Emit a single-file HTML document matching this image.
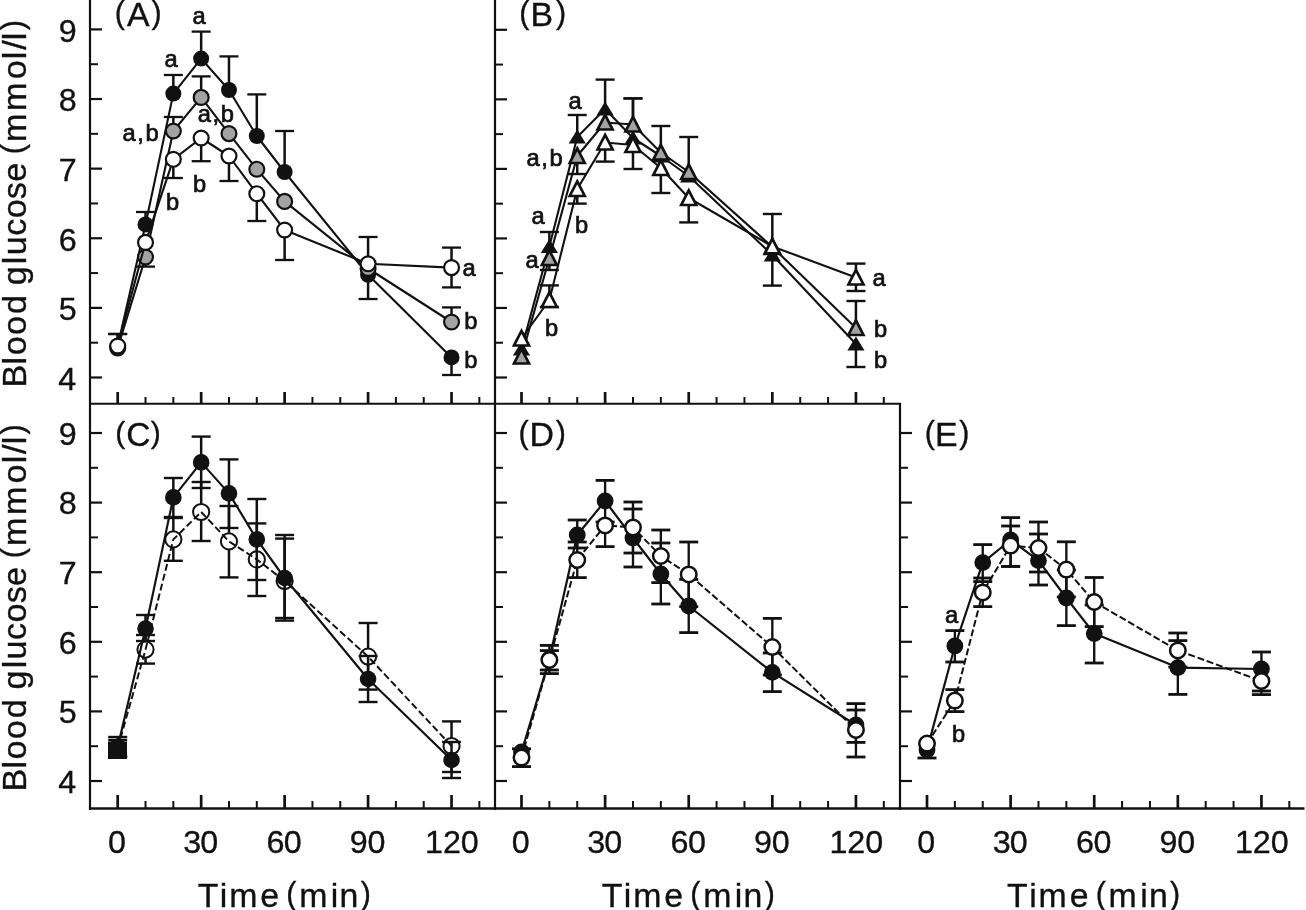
<!DOCTYPE html>
<html><head><meta charset="utf-8"><title>Blood glucose</title>
<style>html,body{margin:0;padding:0;background:#fff}svg{display:block}text{font-family:"Liberation Sans",sans-serif;fill:#111}</style>
</head><body>
<svg width="1306" height="910" viewBox="0 0 1306 910">
<rect width="1306" height="910" fill="#fff"/>
<g stroke="#111" fill="none" stroke-linecap="butt">
<line x1="90.00" y1="0.00" x2="90.00" y2="810.00" stroke-width="2.2" />
<line x1="495.00" y1="0.00" x2="495.00" y2="810.00" stroke-width="2.2" />
<line x1="900.00" y1="403.80" x2="900.00" y2="810.00" stroke-width="2.2" />
<line x1="89.00" y1="403.80" x2="901.10" y2="403.80" stroke-width="2" />
<line x1="89.00" y1="808.50" x2="1304.50" y2="808.50" stroke-width="2.7" />
<line x1="90.00" y1="377.50" x2="102.00" y2="377.50" stroke-width="2.2" />
<line x1="90.00" y1="342.69" x2="98.00" y2="342.69" stroke-width="2.0" />
<line x1="90.00" y1="307.88" x2="102.00" y2="307.88" stroke-width="2.2" />
<line x1="90.00" y1="273.07" x2="98.00" y2="273.07" stroke-width="2.0" />
<line x1="90.00" y1="238.26" x2="102.00" y2="238.26" stroke-width="2.2" />
<line x1="90.00" y1="203.45" x2="98.00" y2="203.45" stroke-width="2.0" />
<line x1="90.00" y1="168.64" x2="102.00" y2="168.64" stroke-width="2.2" />
<line x1="90.00" y1="133.83" x2="98.00" y2="133.83" stroke-width="2.0" />
<line x1="90.00" y1="99.02" x2="102.00" y2="99.02" stroke-width="2.2" />
<line x1="90.00" y1="64.21" x2="98.00" y2="64.21" stroke-width="2.0" />
<line x1="90.00" y1="29.40" x2="102.00" y2="29.40" stroke-width="2.2" />
<line x1="495.00" y1="377.50" x2="507.00" y2="377.50" stroke-width="2.2" />
<line x1="495.00" y1="342.73" x2="503.00" y2="342.73" stroke-width="2.0" />
<line x1="495.00" y1="307.96" x2="507.00" y2="307.96" stroke-width="2.2" />
<line x1="495.00" y1="273.19" x2="503.00" y2="273.19" stroke-width="2.0" />
<line x1="495.00" y1="238.42" x2="507.00" y2="238.42" stroke-width="2.2" />
<line x1="495.00" y1="203.65" x2="503.00" y2="203.65" stroke-width="2.0" />
<line x1="495.00" y1="168.88" x2="507.00" y2="168.88" stroke-width="2.2" />
<line x1="495.00" y1="134.11" x2="503.00" y2="134.11" stroke-width="2.0" />
<line x1="495.00" y1="99.34" x2="507.00" y2="99.34" stroke-width="2.2" />
<line x1="495.00" y1="64.57" x2="503.00" y2="64.57" stroke-width="2.0" />
<line x1="495.00" y1="29.80" x2="507.00" y2="29.80" stroke-width="2.2" />
<line x1="90.00" y1="781.00" x2="102.00" y2="781.00" stroke-width="2.2" />
<line x1="90.00" y1="746.20" x2="98.00" y2="746.20" stroke-width="2.0" />
<line x1="90.00" y1="711.40" x2="102.00" y2="711.40" stroke-width="2.2" />
<line x1="90.00" y1="676.60" x2="98.00" y2="676.60" stroke-width="2.0" />
<line x1="90.00" y1="641.80" x2="102.00" y2="641.80" stroke-width="2.2" />
<line x1="90.00" y1="607.00" x2="98.00" y2="607.00" stroke-width="2.0" />
<line x1="90.00" y1="572.20" x2="102.00" y2="572.20" stroke-width="2.2" />
<line x1="90.00" y1="537.40" x2="98.00" y2="537.40" stroke-width="2.0" />
<line x1="90.00" y1="502.60" x2="102.00" y2="502.60" stroke-width="2.2" />
<line x1="90.00" y1="467.80" x2="98.00" y2="467.80" stroke-width="2.0" />
<line x1="90.00" y1="433.00" x2="102.00" y2="433.00" stroke-width="2.2" />
<line x1="495.00" y1="781.00" x2="507.00" y2="781.00" stroke-width="2.2" />
<line x1="495.00" y1="746.20" x2="503.00" y2="746.20" stroke-width="2.0" />
<line x1="495.00" y1="711.40" x2="507.00" y2="711.40" stroke-width="2.2" />
<line x1="495.00" y1="676.60" x2="503.00" y2="676.60" stroke-width="2.0" />
<line x1="495.00" y1="641.80" x2="507.00" y2="641.80" stroke-width="2.2" />
<line x1="495.00" y1="607.00" x2="503.00" y2="607.00" stroke-width="2.0" />
<line x1="495.00" y1="572.20" x2="507.00" y2="572.20" stroke-width="2.2" />
<line x1="495.00" y1="537.40" x2="503.00" y2="537.40" stroke-width="2.0" />
<line x1="495.00" y1="502.60" x2="507.00" y2="502.60" stroke-width="2.2" />
<line x1="495.00" y1="467.80" x2="503.00" y2="467.80" stroke-width="2.0" />
<line x1="495.00" y1="433.00" x2="507.00" y2="433.00" stroke-width="2.2" />
<line x1="900.00" y1="781.00" x2="912.00" y2="781.00" stroke-width="2.2" />
<line x1="900.00" y1="746.20" x2="908.00" y2="746.20" stroke-width="2.0" />
<line x1="900.00" y1="711.40" x2="912.00" y2="711.40" stroke-width="2.2" />
<line x1="900.00" y1="676.60" x2="908.00" y2="676.60" stroke-width="2.0" />
<line x1="900.00" y1="641.80" x2="912.00" y2="641.80" stroke-width="2.2" />
<line x1="900.00" y1="607.00" x2="908.00" y2="607.00" stroke-width="2.0" />
<line x1="900.00" y1="572.20" x2="912.00" y2="572.20" stroke-width="2.2" />
<line x1="900.00" y1="537.40" x2="908.00" y2="537.40" stroke-width="2.0" />
<line x1="900.00" y1="502.60" x2="912.00" y2="502.60" stroke-width="2.2" />
<line x1="900.00" y1="467.80" x2="908.00" y2="467.80" stroke-width="2.0" />
<line x1="900.00" y1="433.00" x2="912.00" y2="433.00" stroke-width="2.2" />
<line x1="117.70" y1="403.80" x2="117.70" y2="392.00" stroke-width="2.7" />
<line x1="145.52" y1="403.80" x2="145.52" y2="397.00" stroke-width="2.0" />
<line x1="173.34" y1="403.80" x2="173.34" y2="397.00" stroke-width="2.0" />
<line x1="201.16" y1="403.80" x2="201.16" y2="392.00" stroke-width="2.7" />
<line x1="228.98" y1="403.80" x2="228.98" y2="397.00" stroke-width="2.0" />
<line x1="256.80" y1="403.80" x2="256.80" y2="397.00" stroke-width="2.0" />
<line x1="284.62" y1="403.80" x2="284.62" y2="392.00" stroke-width="2.7" />
<line x1="312.44" y1="403.80" x2="312.44" y2="397.00" stroke-width="2.0" />
<line x1="340.26" y1="403.80" x2="340.26" y2="397.00" stroke-width="2.0" />
<line x1="368.08" y1="403.80" x2="368.08" y2="392.00" stroke-width="2.7" />
<line x1="395.90" y1="403.80" x2="395.90" y2="397.00" stroke-width="2.0" />
<line x1="423.72" y1="403.80" x2="423.72" y2="397.00" stroke-width="2.0" />
<line x1="451.54" y1="403.80" x2="451.54" y2="392.00" stroke-width="2.7" />
<line x1="479.36" y1="403.80" x2="479.36" y2="397.00" stroke-width="2.0" />
<line x1="521.50" y1="403.80" x2="521.50" y2="392.00" stroke-width="2.7" />
<line x1="549.37" y1="403.80" x2="549.37" y2="397.00" stroke-width="2.0" />
<line x1="577.24" y1="403.80" x2="577.24" y2="397.00" stroke-width="2.0" />
<line x1="605.11" y1="403.80" x2="605.11" y2="392.00" stroke-width="2.7" />
<line x1="632.98" y1="403.80" x2="632.98" y2="397.00" stroke-width="2.0" />
<line x1="660.85" y1="403.80" x2="660.85" y2="397.00" stroke-width="2.0" />
<line x1="688.72" y1="403.80" x2="688.72" y2="392.00" stroke-width="2.7" />
<line x1="716.59" y1="403.80" x2="716.59" y2="397.00" stroke-width="2.0" />
<line x1="744.46" y1="403.80" x2="744.46" y2="397.00" stroke-width="2.0" />
<line x1="772.33" y1="403.80" x2="772.33" y2="392.00" stroke-width="2.7" />
<line x1="800.20" y1="403.80" x2="800.20" y2="397.00" stroke-width="2.0" />
<line x1="828.07" y1="403.80" x2="828.07" y2="397.00" stroke-width="2.0" />
<line x1="855.94" y1="403.80" x2="855.94" y2="392.00" stroke-width="2.7" />
<line x1="883.81" y1="403.80" x2="883.81" y2="397.00" stroke-width="2.0" />
<line x1="117.70" y1="808.50" x2="117.70" y2="795.00" stroke-width="2.7" />
<line x1="145.52" y1="808.50" x2="145.52" y2="801.00" stroke-width="2.0" />
<line x1="173.34" y1="808.50" x2="173.34" y2="801.00" stroke-width="2.0" />
<line x1="201.16" y1="808.50" x2="201.16" y2="795.00" stroke-width="2.7" />
<line x1="228.98" y1="808.50" x2="228.98" y2="801.00" stroke-width="2.0" />
<line x1="256.80" y1="808.50" x2="256.80" y2="801.00" stroke-width="2.0" />
<line x1="284.62" y1="808.50" x2="284.62" y2="795.00" stroke-width="2.7" />
<line x1="312.44" y1="808.50" x2="312.44" y2="801.00" stroke-width="2.0" />
<line x1="340.26" y1="808.50" x2="340.26" y2="801.00" stroke-width="2.0" />
<line x1="368.08" y1="808.50" x2="368.08" y2="795.00" stroke-width="2.7" />
<line x1="395.90" y1="808.50" x2="395.90" y2="801.00" stroke-width="2.0" />
<line x1="423.72" y1="808.50" x2="423.72" y2="801.00" stroke-width="2.0" />
<line x1="451.54" y1="808.50" x2="451.54" y2="795.00" stroke-width="2.7" />
<line x1="479.36" y1="808.50" x2="479.36" y2="801.00" stroke-width="2.0" />
<line x1="521.50" y1="808.50" x2="521.50" y2="795.00" stroke-width="2.7" />
<line x1="549.37" y1="808.50" x2="549.37" y2="801.00" stroke-width="2.0" />
<line x1="577.24" y1="808.50" x2="577.24" y2="801.00" stroke-width="2.0" />
<line x1="605.11" y1="808.50" x2="605.11" y2="795.00" stroke-width="2.7" />
<line x1="632.98" y1="808.50" x2="632.98" y2="801.00" stroke-width="2.0" />
<line x1="660.85" y1="808.50" x2="660.85" y2="801.00" stroke-width="2.0" />
<line x1="688.72" y1="808.50" x2="688.72" y2="795.00" stroke-width="2.7" />
<line x1="716.59" y1="808.50" x2="716.59" y2="801.00" stroke-width="2.0" />
<line x1="744.46" y1="808.50" x2="744.46" y2="801.00" stroke-width="2.0" />
<line x1="772.33" y1="808.50" x2="772.33" y2="795.00" stroke-width="2.7" />
<line x1="800.20" y1="808.50" x2="800.20" y2="801.00" stroke-width="2.0" />
<line x1="828.07" y1="808.50" x2="828.07" y2="801.00" stroke-width="2.0" />
<line x1="855.94" y1="808.50" x2="855.94" y2="795.00" stroke-width="2.7" />
<line x1="883.81" y1="808.50" x2="883.81" y2="801.00" stroke-width="2.0" />
<line x1="927.00" y1="808.50" x2="927.00" y2="795.00" stroke-width="2.7" />
<line x1="954.87" y1="808.50" x2="954.87" y2="801.00" stroke-width="2.0" />
<line x1="982.74" y1="808.50" x2="982.74" y2="801.00" stroke-width="2.0" />
<line x1="1010.61" y1="808.50" x2="1010.61" y2="795.00" stroke-width="2.7" />
<line x1="1038.48" y1="808.50" x2="1038.48" y2="801.00" stroke-width="2.0" />
<line x1="1066.35" y1="808.50" x2="1066.35" y2="801.00" stroke-width="2.0" />
<line x1="1094.22" y1="808.50" x2="1094.22" y2="795.00" stroke-width="2.7" />
<line x1="1122.09" y1="808.50" x2="1122.09" y2="801.00" stroke-width="2.0" />
<line x1="1149.96" y1="808.50" x2="1149.96" y2="801.00" stroke-width="2.0" />
<line x1="1177.83" y1="808.50" x2="1177.83" y2="795.00" stroke-width="2.7" />
<line x1="1205.70" y1="808.50" x2="1205.70" y2="801.00" stroke-width="2.0" />
<line x1="1233.57" y1="808.50" x2="1233.57" y2="801.00" stroke-width="2.0" />
<line x1="1261.44" y1="808.50" x2="1261.44" y2="795.00" stroke-width="2.7" />
<line x1="1289.31" y1="808.50" x2="1289.31" y2="801.00" stroke-width="2.0" />
</g>
<g stroke="#111" fill="none">
<polyline points="117.70,346.00 145.52,224.40 173.34,93.60 201.16,58.60 228.98,90.00 256.80,136.00 284.62,172.00 368.08,274.80 451.54,357.40" stroke-width="2.1"  stroke-linejoin="round"/>
<line x1="117.70" y1="346.00" x2="117.70" y2="334.00" stroke-width="2.5" />
<line x1="108.20" y1="334.00" x2="127.20" y2="334.00" stroke-width="2.3" />
<line x1="145.52" y1="224.40" x2="145.52" y2="212.00" stroke-width="2.5" />
<line x1="136.02" y1="212.00" x2="155.02" y2="212.00" stroke-width="2.3" />
<line x1="173.34" y1="93.60" x2="173.34" y2="75.00" stroke-width="2.5" />
<line x1="163.84" y1="75.00" x2="182.84" y2="75.00" stroke-width="2.3" />
<line x1="201.16" y1="58.60" x2="201.16" y2="31.60" stroke-width="2.5" />
<line x1="191.66" y1="31.60" x2="210.66" y2="31.60" stroke-width="2.3" />
<line x1="228.98" y1="90.00" x2="228.98" y2="56.40" stroke-width="2.5" />
<line x1="219.48" y1="56.40" x2="238.48" y2="56.40" stroke-width="2.3" />
<line x1="256.80" y1="136.00" x2="256.80" y2="94.40" stroke-width="2.5" />
<line x1="247.30" y1="94.40" x2="266.30" y2="94.40" stroke-width="2.3" />
<line x1="284.62" y1="172.00" x2="284.62" y2="131.00" stroke-width="2.5" />
<line x1="275.12" y1="131.00" x2="294.12" y2="131.00" stroke-width="2.3" />
<line x1="368.08" y1="274.80" x2="368.08" y2="299.00" stroke-width="2.5" />
<line x1="358.58" y1="299.00" x2="377.58" y2="299.00" stroke-width="2.3" />
<line x1="451.54" y1="357.40" x2="451.54" y2="375.00" stroke-width="2.5" />
<line x1="442.04" y1="375.00" x2="461.04" y2="375.00" stroke-width="2.3" />
<circle cx="117.70" cy="346.00" r="8.0" fill="#111" stroke="none"/>
<circle cx="145.52" cy="224.40" r="8.0" fill="#111" stroke="none"/>
<circle cx="173.34" cy="93.60" r="8.0" fill="#111" stroke="none"/>
<circle cx="201.16" cy="58.60" r="8.0" fill="#111" stroke="none"/>
<circle cx="228.98" cy="90.00" r="8.0" fill="#111" stroke="none"/>
<circle cx="256.80" cy="136.00" r="8.0" fill="#111" stroke="none"/>
<circle cx="284.62" cy="172.00" r="8.0" fill="#111" stroke="none"/>
<circle cx="368.08" cy="274.80" r="8.0" fill="#111" stroke="none"/>
<circle cx="451.54" cy="357.40" r="8.0" fill="#111" stroke="none"/>
</g>
<g stroke="#111" fill="none">
<polyline points="117.70,348.00 145.52,257.00 173.34,131.00 201.16,97.40 228.98,133.60 256.80,169.20 284.62,201.40 368.08,268.50 451.54,322.00" stroke-width="2.1"  stroke-linejoin="round"/>
<line x1="145.52" y1="257.00" x2="145.52" y2="266.60" stroke-width="2.5" />
<line x1="136.02" y1="266.60" x2="155.02" y2="266.60" stroke-width="2.3" />
<line x1="173.34" y1="131.00" x2="173.34" y2="117.00" stroke-width="2.5" />
<line x1="163.84" y1="117.00" x2="182.84" y2="117.00" stroke-width="2.3" />
<line x1="201.16" y1="97.40" x2="201.16" y2="76.40" stroke-width="2.5" />
<line x1="191.66" y1="76.40" x2="210.66" y2="76.40" stroke-width="2.3" />
<line x1="451.54" y1="322.00" x2="451.54" y2="307.40" stroke-width="2.5" />
<line x1="442.04" y1="307.40" x2="461.04" y2="307.40" stroke-width="2.3" />
<circle cx="117.70" cy="348.00" r="7.45" fill="#a3a3a3" stroke="#111" stroke-width="2.2"/>
<circle cx="145.52" cy="257.00" r="7.45" fill="#a3a3a3" stroke="#111" stroke-width="2.2"/>
<circle cx="173.34" cy="131.00" r="7.45" fill="#a3a3a3" stroke="#111" stroke-width="2.2"/>
<circle cx="201.16" cy="97.40" r="7.45" fill="#a3a3a3" stroke="#111" stroke-width="2.2"/>
<circle cx="228.98" cy="133.60" r="7.45" fill="#a3a3a3" stroke="#111" stroke-width="2.2"/>
<circle cx="256.80" cy="169.20" r="7.45" fill="#a3a3a3" stroke="#111" stroke-width="2.2"/>
<circle cx="284.62" cy="201.40" r="7.45" fill="#a3a3a3" stroke="#111" stroke-width="2.2"/>
<circle cx="368.08" cy="268.50" r="7.45" fill="#a3a3a3" stroke="#111" stroke-width="2.2"/>
<circle cx="451.54" cy="322.00" r="7.45" fill="#a3a3a3" stroke="#111" stroke-width="2.2"/>
</g>
<g stroke="#111" fill="none">
<polyline points="117.70,346.00 145.52,242.40 173.34,159.30 201.16,138.00 228.98,156.00 256.80,193.70 284.62,230.00 368.08,263.80 451.54,267.60" stroke-width="2.1"  stroke-linejoin="round"/>
<line x1="117.70" y1="346.00" x2="117.70" y2="334.00" stroke-width="2.5" />
<line x1="108.20" y1="334.00" x2="127.20" y2="334.00" stroke-width="2.3" />
<line x1="173.34" y1="159.30" x2="173.34" y2="178.00" stroke-width="2.5" />
<line x1="163.84" y1="178.00" x2="182.84" y2="178.00" stroke-width="2.3" />
<line x1="201.16" y1="138.00" x2="201.16" y2="161.20" stroke-width="2.5" />
<line x1="191.66" y1="161.20" x2="210.66" y2="161.20" stroke-width="2.3" />
<line x1="228.98" y1="156.00" x2="228.98" y2="181.00" stroke-width="2.5" />
<line x1="219.48" y1="181.00" x2="238.48" y2="181.00" stroke-width="2.3" />
<line x1="256.80" y1="193.70" x2="256.80" y2="221.00" stroke-width="2.5" />
<line x1="247.30" y1="221.00" x2="266.30" y2="221.00" stroke-width="2.3" />
<line x1="284.62" y1="230.00" x2="284.62" y2="260.00" stroke-width="2.5" />
<line x1="275.12" y1="260.00" x2="294.12" y2="260.00" stroke-width="2.3" />
<line x1="368.08" y1="263.80" x2="368.08" y2="237.00" stroke-width="2.5" />
<line x1="358.58" y1="237.00" x2="377.58" y2="237.00" stroke-width="2.3" />
<line x1="451.54" y1="267.60" x2="451.54" y2="247.60" stroke-width="2.5" />
<line x1="442.04" y1="247.60" x2="461.04" y2="247.60" stroke-width="2.3" />
<line x1="451.54" y1="267.60" x2="451.54" y2="287.40" stroke-width="2.5" />
<line x1="442.04" y1="287.40" x2="461.04" y2="287.40" stroke-width="2.3" />
<circle cx="117.70" cy="346.00" r="7.45" fill="#fff" stroke="#111" stroke-width="2.2"/>
<circle cx="145.52" cy="242.40" r="7.45" fill="#fff" stroke="#111" stroke-width="2.2"/>
<circle cx="173.34" cy="159.30" r="7.45" fill="#fff" stroke="#111" stroke-width="2.2"/>
<circle cx="201.16" cy="138.00" r="7.45" fill="#fff" stroke="#111" stroke-width="2.2"/>
<circle cx="228.98" cy="156.00" r="7.45" fill="#fff" stroke="#111" stroke-width="2.2"/>
<circle cx="256.80" cy="193.70" r="7.45" fill="#fff" stroke="#111" stroke-width="2.2"/>
<circle cx="284.62" cy="230.00" r="7.45" fill="#fff" stroke="#111" stroke-width="2.2"/>
<circle cx="368.08" cy="263.80" r="7.45" fill="#fff" stroke="#111" stroke-width="2.2"/>
<circle cx="451.54" cy="267.60" r="7.45" fill="#fff" stroke="#111" stroke-width="2.2"/>
</g>
<g stroke="#111" fill="none">
<polyline points="521.50,349.00 549.37,246.50 577.24,137.00 605.11,109.00 632.98,138.00 660.85,156.00 688.72,176.00 772.33,255.00 855.94,344.00" stroke-width="2.1"  stroke-linejoin="round"/>
<line x1="549.37" y1="246.50" x2="549.37" y2="232.00" stroke-width="2.5" />
<line x1="539.87" y1="232.00" x2="558.87" y2="232.00" stroke-width="2.4" />
<line x1="577.24" y1="137.00" x2="577.24" y2="115.00" stroke-width="2.5" />
<line x1="567.74" y1="115.00" x2="586.74" y2="115.00" stroke-width="2.4" />
<line x1="605.11" y1="109.00" x2="605.11" y2="79.60" stroke-width="2.5" />
<line x1="595.61" y1="79.60" x2="614.61" y2="79.60" stroke-width="2.4" />
<line x1="632.98" y1="138.00" x2="632.98" y2="98.40" stroke-width="2.5" />
<line x1="623.48" y1="98.40" x2="642.48" y2="98.40" stroke-width="2.4" />
<line x1="772.33" y1="255.00" x2="772.33" y2="285.60" stroke-width="2.5" />
<line x1="762.83" y1="285.60" x2="781.83" y2="285.60" stroke-width="2.4" />
<line x1="855.94" y1="344.00" x2="855.94" y2="367.00" stroke-width="2.5" />
<line x1="846.44" y1="367.00" x2="865.44" y2="367.00" stroke-width="2.4" />
<polygon points="521.50,341.40 530.10,355.60 512.90,355.60" fill="#111" stroke="none"/>
<polygon points="549.37,238.90 557.97,253.10 540.77,253.10" fill="#111" stroke="none"/>
<polygon points="577.24,129.40 585.84,143.60 568.64,143.60" fill="#111" stroke="none"/>
<polygon points="605.11,101.40 613.71,115.60 596.51,115.60" fill="#111" stroke="none"/>
<polygon points="632.98,130.40 641.58,144.60 624.38,144.60" fill="#111" stroke="none"/>
<polygon points="660.85,148.40 669.45,162.60 652.25,162.60" fill="#111" stroke="none"/>
<polygon points="688.72,168.40 697.32,182.60 680.12,182.60" fill="#111" stroke="none"/>
<polygon points="772.33,247.40 780.93,261.60 763.73,261.60" fill="#111" stroke="none"/>
<polygon points="855.94,336.40 864.54,350.60 847.34,350.60" fill="#111" stroke="none"/>
</g>
<g stroke="#111" fill="none">
<polyline points="521.50,356.50 549.37,258.00 577.24,156.00 605.11,122.50 632.98,124.50 660.85,152.50 688.72,172.00 772.33,247.00 855.94,328.00" stroke-width="2.1"  stroke-linejoin="round"/>
<line x1="549.37" y1="258.00" x2="549.37" y2="270.00" stroke-width="2.5" />
<line x1="539.87" y1="270.00" x2="558.87" y2="270.00" stroke-width="2.4" />
<line x1="577.24" y1="156.00" x2="577.24" y2="174.00" stroke-width="2.5" />
<line x1="567.74" y1="174.00" x2="586.74" y2="174.00" stroke-width="2.4" />
<line x1="632.98" y1="124.50" x2="632.98" y2="98.40" stroke-width="2.5" />
<line x1="623.48" y1="98.40" x2="642.48" y2="98.40" stroke-width="2.4" />
<line x1="660.85" y1="152.50" x2="660.85" y2="126.00" stroke-width="2.5" />
<line x1="651.35" y1="126.00" x2="670.35" y2="126.00" stroke-width="2.4" />
<line x1="688.72" y1="172.00" x2="688.72" y2="137.00" stroke-width="2.5" />
<line x1="679.22" y1="137.00" x2="698.22" y2="137.00" stroke-width="2.4" />
<line x1="855.94" y1="328.00" x2="855.94" y2="301.00" stroke-width="2.5" />
<line x1="846.44" y1="301.00" x2="865.44" y2="301.00" stroke-width="2.4" />
<polygon points="521.50,348.90 529.00,363.50 514.00,363.50" fill="#a3a3a3" stroke="#111" stroke-width="2.7" stroke-linejoin="miter"/>
<polygon points="549.37,250.40 556.87,265.00 541.87,265.00" fill="#a3a3a3" stroke="#111" stroke-width="2.7" stroke-linejoin="miter"/>
<polygon points="577.24,148.40 584.74,163.00 569.74,163.00" fill="#a3a3a3" stroke="#111" stroke-width="2.7" stroke-linejoin="miter"/>
<polygon points="605.11,114.90 612.61,129.50 597.61,129.50" fill="#a3a3a3" stroke="#111" stroke-width="2.7" stroke-linejoin="miter"/>
<polygon points="632.98,116.90 640.48,131.50 625.48,131.50" fill="#a3a3a3" stroke="#111" stroke-width="2.7" stroke-linejoin="miter"/>
<polygon points="660.85,144.90 668.35,159.50 653.35,159.50" fill="#a3a3a3" stroke="#111" stroke-width="2.7" stroke-linejoin="miter"/>
<polygon points="688.72,164.40 696.22,179.00 681.22,179.00" fill="#a3a3a3" stroke="#111" stroke-width="2.7" stroke-linejoin="miter"/>
<polygon points="772.33,239.40 779.83,254.00 764.83,254.00" fill="#a3a3a3" stroke="#111" stroke-width="2.7" stroke-linejoin="miter"/>
<polygon points="855.94,320.40 863.44,335.00 848.44,335.00" fill="#a3a3a3" stroke="#111" stroke-width="2.7" stroke-linejoin="miter"/>
</g>
<g stroke="#111" fill="none">
<polyline points="521.50,338.50 549.37,300.00 577.24,189.00 605.11,142.50 632.98,145.00 660.85,168.00 688.72,198.00 772.33,246.40 855.94,277.50" stroke-width="2.1"  stroke-linejoin="round"/>
<line x1="549.37" y1="300.00" x2="549.37" y2="285.40" stroke-width="2.5" />
<line x1="539.87" y1="285.40" x2="558.87" y2="285.40" stroke-width="2.4" />
<line x1="549.37" y1="300.00" x2="549.37" y2="307.00" stroke-width="2.5" />
<line x1="539.87" y1="307.00" x2="558.87" y2="307.00" stroke-width="2.4" />
<line x1="577.24" y1="189.00" x2="577.24" y2="203.60" stroke-width="2.5" />
<line x1="567.74" y1="203.60" x2="586.74" y2="203.60" stroke-width="2.4" />
<line x1="605.11" y1="142.50" x2="605.11" y2="161.60" stroke-width="2.5" />
<line x1="595.61" y1="161.60" x2="614.61" y2="161.60" stroke-width="2.4" />
<line x1="632.98" y1="145.00" x2="632.98" y2="169.00" stroke-width="2.5" />
<line x1="623.48" y1="169.00" x2="642.48" y2="169.00" stroke-width="2.4" />
<line x1="660.85" y1="168.00" x2="660.85" y2="193.00" stroke-width="2.5" />
<line x1="651.35" y1="193.00" x2="670.35" y2="193.00" stroke-width="2.4" />
<line x1="688.72" y1="198.00" x2="688.72" y2="222.40" stroke-width="2.5" />
<line x1="679.22" y1="222.40" x2="698.22" y2="222.40" stroke-width="2.4" />
<line x1="772.33" y1="246.40" x2="772.33" y2="214.00" stroke-width="2.5" />
<line x1="762.83" y1="214.00" x2="781.83" y2="214.00" stroke-width="2.4" />
<line x1="855.94" y1="277.50" x2="855.94" y2="263.60" stroke-width="2.5" />
<line x1="846.44" y1="263.60" x2="865.44" y2="263.60" stroke-width="2.4" />
<line x1="855.94" y1="277.50" x2="855.94" y2="291.00" stroke-width="2.5" />
<line x1="846.44" y1="291.00" x2="865.44" y2="291.00" stroke-width="2.4" />
<polygon points="521.50,330.90 529.00,345.50 514.00,345.50" fill="#fff" stroke="#111" stroke-width="2.7" stroke-linejoin="miter"/>
<polygon points="549.37,292.40 556.87,307.00 541.87,307.00" fill="#fff" stroke="#111" stroke-width="2.7" stroke-linejoin="miter"/>
<polygon points="577.24,181.40 584.74,196.00 569.74,196.00" fill="#fff" stroke="#111" stroke-width="2.7" stroke-linejoin="miter"/>
<polygon points="605.11,134.90 612.61,149.50 597.61,149.50" fill="#fff" stroke="#111" stroke-width="2.7" stroke-linejoin="miter"/>
<polygon points="632.98,137.40 640.48,152.00 625.48,152.00" fill="#fff" stroke="#111" stroke-width="2.7" stroke-linejoin="miter"/>
<polygon points="660.85,160.40 668.35,175.00 653.35,175.00" fill="#fff" stroke="#111" stroke-width="2.7" stroke-linejoin="miter"/>
<polygon points="688.72,190.40 696.22,205.00 681.22,205.00" fill="#fff" stroke="#111" stroke-width="2.7" stroke-linejoin="miter"/>
<polygon points="772.33,238.80 779.83,253.40 764.83,253.40" fill="#fff" stroke="#111" stroke-width="2.7" stroke-linejoin="miter"/>
<polygon points="855.94,269.90 863.44,284.50 848.44,284.50" fill="#fff" stroke="#111" stroke-width="2.7" stroke-linejoin="miter"/>
</g>
<g stroke="#111" fill="none">
<line x1="117.70" y1="748.00" x2="117.70" y2="740.00" stroke-width="2.5" />
<line x1="108.20" y1="740.00" x2="127.20" y2="740.00" stroke-width="2.4" />
<line x1="117.70" y1="748.00" x2="117.70" y2="756.00" stroke-width="2.5" />
<line x1="108.20" y1="756.00" x2="127.20" y2="756.00" stroke-width="2.4" />
<line x1="145.52" y1="649.60" x2="145.52" y2="635.00" stroke-width="2.5" />
<line x1="136.02" y1="635.00" x2="155.02" y2="635.00" stroke-width="2.4" />
<line x1="145.52" y1="649.60" x2="145.52" y2="663.60" stroke-width="2.5" />
<line x1="136.02" y1="663.60" x2="155.02" y2="663.60" stroke-width="2.4" />
<line x1="173.34" y1="539.40" x2="173.34" y2="518.00" stroke-width="2.5" />
<line x1="163.84" y1="518.00" x2="182.84" y2="518.00" stroke-width="2.4" />
<line x1="173.34" y1="539.40" x2="173.34" y2="560.80" stroke-width="2.5" />
<line x1="163.84" y1="560.80" x2="182.84" y2="560.80" stroke-width="2.4" />
<line x1="201.16" y1="512.00" x2="201.16" y2="482.00" stroke-width="2.5" />
<line x1="191.66" y1="482.00" x2="210.66" y2="482.00" stroke-width="2.4" />
<line x1="201.16" y1="512.00" x2="201.16" y2="541.00" stroke-width="2.5" />
<line x1="191.66" y1="541.00" x2="210.66" y2="541.00" stroke-width="2.4" />
<line x1="228.98" y1="541.40" x2="228.98" y2="506.00" stroke-width="2.5" />
<line x1="219.48" y1="506.00" x2="238.48" y2="506.00" stroke-width="2.4" />
<line x1="228.98" y1="541.40" x2="228.98" y2="577.40" stroke-width="2.5" />
<line x1="219.48" y1="577.40" x2="238.48" y2="577.40" stroke-width="2.4" />
<line x1="256.80" y1="559.40" x2="256.80" y2="523.40" stroke-width="2.5" />
<line x1="247.30" y1="523.40" x2="266.30" y2="523.40" stroke-width="2.4" />
<line x1="256.80" y1="559.40" x2="256.80" y2="596.00" stroke-width="2.5" />
<line x1="247.30" y1="596.00" x2="266.30" y2="596.00" stroke-width="2.4" />
<line x1="284.62" y1="581.00" x2="284.62" y2="538.60" stroke-width="2.5" />
<line x1="275.12" y1="538.60" x2="294.12" y2="538.60" stroke-width="2.4" />
<line x1="284.62" y1="581.00" x2="284.62" y2="618.00" stroke-width="2.5" />
<line x1="275.12" y1="618.00" x2="294.12" y2="618.00" stroke-width="2.4" />
<line x1="368.08" y1="656.60" x2="368.08" y2="623.00" stroke-width="2.5" />
<line x1="358.58" y1="623.00" x2="377.58" y2="623.00" stroke-width="2.4" />
<line x1="368.08" y1="656.60" x2="368.08" y2="689.60" stroke-width="2.5" />
<line x1="358.58" y1="689.60" x2="377.58" y2="689.60" stroke-width="2.4" />
<line x1="451.54" y1="746.00" x2="451.54" y2="721.40" stroke-width="2.5" />
<line x1="442.04" y1="721.40" x2="461.04" y2="721.40" stroke-width="2.4" />
<line x1="451.54" y1="746.00" x2="451.54" y2="772.00" stroke-width="2.5" />
<line x1="442.04" y1="772.00" x2="461.04" y2="772.00" stroke-width="2.4" />
<circle cx="117.70" cy="748.00" r="8.1" fill="#fff" stroke="#111" stroke-width="2.0"/>
<circle cx="145.52" cy="649.60" r="8.1" fill="#fff" stroke="#111" stroke-width="2.0"/>
<circle cx="173.34" cy="539.40" r="8.1" fill="#fff" stroke="#111" stroke-width="2.0"/>
<circle cx="201.16" cy="512.00" r="8.1" fill="#fff" stroke="#111" stroke-width="2.0"/>
<circle cx="228.98" cy="541.40" r="8.1" fill="#fff" stroke="#111" stroke-width="2.0"/>
<circle cx="256.80" cy="559.40" r="8.1" fill="#fff" stroke="#111" stroke-width="2.0"/>
<circle cx="284.62" cy="581.00" r="8.1" fill="#fff" stroke="#111" stroke-width="2.0"/>
<circle cx="368.08" cy="656.60" r="8.1" fill="#fff" stroke="#111" stroke-width="2.0"/>
<circle cx="451.54" cy="746.00" r="8.1" fill="#fff" stroke="#111" stroke-width="2.0"/>
<polyline points="117.70,748.00 145.52,649.60 173.34,539.40 201.16,512.00 228.98,541.40 256.80,559.40 284.62,581.00 368.08,656.60 451.54,746.00" stroke-width="1.95" stroke-dasharray="7 3.2" stroke-linejoin="round"/>
</g>
<g stroke="#111" fill="none">
<polyline points="117.70,747.00 145.52,628.60 173.34,497.40 201.16,462.40 228.98,493.40 256.80,539.40 284.62,578.00 368.08,679.00 451.54,760.00" stroke-width="2.15"  stroke-linejoin="round"/>
<line x1="117.70" y1="747.00" x2="117.70" y2="737.00" stroke-width="2.5" />
<line x1="108.20" y1="737.00" x2="127.20" y2="737.00" stroke-width="2.4" />
<line x1="117.70" y1="747.00" x2="117.70" y2="757.00" stroke-width="2.5" />
<line x1="108.20" y1="757.00" x2="127.20" y2="757.00" stroke-width="2.4" />
<line x1="145.52" y1="628.60" x2="145.52" y2="615.00" stroke-width="2.5" />
<line x1="136.02" y1="615.00" x2="155.02" y2="615.00" stroke-width="2.4" />
<line x1="145.52" y1="628.60" x2="145.52" y2="641.00" stroke-width="2.5" />
<line x1="136.02" y1="641.00" x2="155.02" y2="641.00" stroke-width="2.4" />
<line x1="173.34" y1="497.40" x2="173.34" y2="478.00" stroke-width="2.5" />
<line x1="163.84" y1="478.00" x2="182.84" y2="478.00" stroke-width="2.4" />
<line x1="173.34" y1="497.40" x2="173.34" y2="517.00" stroke-width="2.5" />
<line x1="163.84" y1="517.00" x2="182.84" y2="517.00" stroke-width="2.4" />
<line x1="201.16" y1="462.40" x2="201.16" y2="436.60" stroke-width="2.5" />
<line x1="191.66" y1="436.60" x2="210.66" y2="436.60" stroke-width="2.4" />
<line x1="201.16" y1="462.40" x2="201.16" y2="488.00" stroke-width="2.5" />
<line x1="191.66" y1="488.00" x2="210.66" y2="488.00" stroke-width="2.4" />
<line x1="228.98" y1="493.40" x2="228.98" y2="459.40" stroke-width="2.5" />
<line x1="219.48" y1="459.40" x2="238.48" y2="459.40" stroke-width="2.4" />
<line x1="228.98" y1="493.40" x2="228.98" y2="528.00" stroke-width="2.5" />
<line x1="219.48" y1="528.00" x2="238.48" y2="528.00" stroke-width="2.4" />
<line x1="256.80" y1="539.40" x2="256.80" y2="499.00" stroke-width="2.5" />
<line x1="247.30" y1="499.00" x2="266.30" y2="499.00" stroke-width="2.4" />
<line x1="256.80" y1="539.40" x2="256.80" y2="580.00" stroke-width="2.5" />
<line x1="247.30" y1="580.00" x2="266.30" y2="580.00" stroke-width="2.4" />
<line x1="284.62" y1="578.00" x2="284.62" y2="535.00" stroke-width="2.5" />
<line x1="275.12" y1="535.00" x2="294.12" y2="535.00" stroke-width="2.4" />
<line x1="284.62" y1="578.00" x2="284.62" y2="620.60" stroke-width="2.5" />
<line x1="275.12" y1="620.60" x2="294.12" y2="620.60" stroke-width="2.4" />
<line x1="368.08" y1="679.00" x2="368.08" y2="656.00" stroke-width="2.5" />
<line x1="358.58" y1="656.00" x2="377.58" y2="656.00" stroke-width="2.4" />
<line x1="368.08" y1="679.00" x2="368.08" y2="702.00" stroke-width="2.5" />
<line x1="358.58" y1="702.00" x2="377.58" y2="702.00" stroke-width="2.4" />
<line x1="451.54" y1="760.00" x2="451.54" y2="742.00" stroke-width="2.5" />
<line x1="442.04" y1="742.00" x2="461.04" y2="742.00" stroke-width="2.4" />
<line x1="451.54" y1="760.00" x2="451.54" y2="778.00" stroke-width="2.5" />
<line x1="442.04" y1="778.00" x2="461.04" y2="778.00" stroke-width="2.4" />
<circle cx="117.70" cy="747.00" r="8.3" fill="#111" stroke="none"/>
<circle cx="145.52" cy="628.60" r="8.3" fill="#111" stroke="none"/>
<circle cx="173.34" cy="497.40" r="8.3" fill="#111" stroke="none"/>
<circle cx="201.16" cy="462.40" r="8.3" fill="#111" stroke="none"/>
<circle cx="228.98" cy="493.40" r="8.3" fill="#111" stroke="none"/>
<circle cx="256.80" cy="539.40" r="8.3" fill="#111" stroke="none"/>
<circle cx="284.62" cy="578.00" r="8.3" fill="#111" stroke="none"/>
<circle cx="368.08" cy="679.00" r="8.3" fill="#111" stroke="none"/>
<circle cx="451.54" cy="760.00" r="8.3" fill="#111" stroke="none"/>
</g>
<rect x="108" y="741.5" width="19" height="17.5" fill="#111"/>
<g stroke="#111" fill="none">
<polyline points="521.50,752.00 549.37,659.00 577.24,535.00 605.11,501.00 632.98,538.00 660.85,574.00 688.72,606.00 772.33,672.40 855.94,725.00" stroke-width="2.2"  stroke-linejoin="round"/>
<line x1="549.37" y1="659.00" x2="549.37" y2="645.40" stroke-width="2.35" />
<line x1="539.87" y1="645.40" x2="558.87" y2="645.40" stroke-width="2.8" />
<line x1="549.37" y1="659.00" x2="549.37" y2="673.60" stroke-width="2.35" />
<line x1="539.87" y1="673.60" x2="558.87" y2="673.60" stroke-width="2.8" />
<line x1="577.24" y1="535.00" x2="577.24" y2="520.00" stroke-width="2.35" />
<line x1="567.74" y1="520.00" x2="586.74" y2="520.00" stroke-width="2.8" />
<line x1="577.24" y1="535.00" x2="577.24" y2="548.00" stroke-width="2.35" />
<line x1="567.74" y1="548.00" x2="586.74" y2="548.00" stroke-width="2.8" />
<line x1="605.11" y1="501.00" x2="605.11" y2="480.40" stroke-width="2.35" />
<line x1="595.61" y1="480.40" x2="614.61" y2="480.40" stroke-width="2.8" />
<line x1="605.11" y1="501.00" x2="605.11" y2="522.00" stroke-width="2.35" />
<line x1="595.61" y1="522.00" x2="614.61" y2="522.00" stroke-width="2.8" />
<line x1="632.98" y1="538.00" x2="632.98" y2="509.00" stroke-width="2.35" />
<line x1="623.48" y1="509.00" x2="642.48" y2="509.00" stroke-width="2.8" />
<line x1="632.98" y1="538.00" x2="632.98" y2="567.00" stroke-width="2.35" />
<line x1="623.48" y1="567.00" x2="642.48" y2="567.00" stroke-width="2.8" />
<line x1="660.85" y1="574.00" x2="660.85" y2="543.00" stroke-width="2.35" />
<line x1="651.35" y1="543.00" x2="670.35" y2="543.00" stroke-width="2.8" />
<line x1="660.85" y1="574.00" x2="660.85" y2="604.00" stroke-width="2.35" />
<line x1="651.35" y1="604.00" x2="670.35" y2="604.00" stroke-width="2.8" />
<line x1="688.72" y1="606.00" x2="688.72" y2="579.40" stroke-width="2.35" />
<line x1="679.22" y1="579.40" x2="698.22" y2="579.40" stroke-width="2.8" />
<line x1="688.72" y1="606.00" x2="688.72" y2="632.60" stroke-width="2.35" />
<line x1="679.22" y1="632.60" x2="698.22" y2="632.60" stroke-width="2.8" />
<line x1="772.33" y1="672.40" x2="772.33" y2="653.00" stroke-width="2.35" />
<line x1="762.83" y1="653.00" x2="781.83" y2="653.00" stroke-width="2.8" />
<line x1="772.33" y1="672.40" x2="772.33" y2="691.60" stroke-width="2.35" />
<line x1="762.83" y1="691.60" x2="781.83" y2="691.60" stroke-width="2.8" />
<line x1="855.94" y1="725.00" x2="855.94" y2="710.00" stroke-width="2.35" />
<line x1="846.44" y1="710.00" x2="865.44" y2="710.00" stroke-width="2.8" />
<line x1="855.94" y1="725.00" x2="855.94" y2="742.40" stroke-width="2.35" />
<line x1="846.44" y1="742.40" x2="865.44" y2="742.40" stroke-width="2.8" />
<circle cx="521.50" cy="752.00" r="8.4" fill="#111" stroke="none"/>
<circle cx="549.37" cy="659.00" r="8.4" fill="#111" stroke="none"/>
<circle cx="577.24" cy="535.00" r="8.4" fill="#111" stroke="none"/>
<circle cx="605.11" cy="501.00" r="8.4" fill="#111" stroke="none"/>
<circle cx="632.98" cy="538.00" r="8.4" fill="#111" stroke="none"/>
<circle cx="660.85" cy="574.00" r="8.4" fill="#111" stroke="none"/>
<circle cx="688.72" cy="606.00" r="8.4" fill="#111" stroke="none"/>
<circle cx="772.33" cy="672.40" r="8.4" fill="#111" stroke="none"/>
<circle cx="855.94" cy="725.00" r="8.4" fill="#111" stroke="none"/>
</g>
<g stroke="#111" fill="none">
<polyline points="521.50,757.60 549.37,660.00 577.24,560.00 605.11,525.40 632.98,527.40 660.85,556.00 688.72,574.40 772.33,647.00 855.94,730.00" stroke-width="2.0" stroke-dasharray="7 2.8" stroke-linejoin="round"/>
<line x1="521.50" y1="757.60" x2="521.50" y2="748.80" stroke-width="2.35" />
<line x1="512.00" y1="748.80" x2="531.00" y2="748.80" stroke-width="2.8" />
<line x1="521.50" y1="757.60" x2="521.50" y2="766.60" stroke-width="2.35" />
<line x1="512.00" y1="766.60" x2="531.00" y2="766.60" stroke-width="2.8" />
<line x1="549.37" y1="660.00" x2="549.37" y2="650.60" stroke-width="2.35" />
<line x1="539.87" y1="650.60" x2="558.87" y2="650.60" stroke-width="2.8" />
<line x1="549.37" y1="660.00" x2="549.37" y2="670.00" stroke-width="2.35" />
<line x1="539.87" y1="670.00" x2="558.87" y2="670.00" stroke-width="2.8" />
<line x1="577.24" y1="560.00" x2="577.24" y2="542.00" stroke-width="2.35" />
<line x1="567.74" y1="542.00" x2="586.74" y2="542.00" stroke-width="2.8" />
<line x1="577.24" y1="560.00" x2="577.24" y2="577.60" stroke-width="2.35" />
<line x1="567.74" y1="577.60" x2="586.74" y2="577.60" stroke-width="2.8" />
<line x1="605.11" y1="525.40" x2="605.11" y2="546.60" stroke-width="2.35" />
<line x1="595.61" y1="546.60" x2="614.61" y2="546.60" stroke-width="2.8" />
<line x1="632.98" y1="527.40" x2="632.98" y2="502.00" stroke-width="2.35" />
<line x1="623.48" y1="502.00" x2="642.48" y2="502.00" stroke-width="2.8" />
<line x1="632.98" y1="527.40" x2="632.98" y2="553.00" stroke-width="2.35" />
<line x1="623.48" y1="553.00" x2="642.48" y2="553.00" stroke-width="2.8" />
<line x1="660.85" y1="556.00" x2="660.85" y2="530.00" stroke-width="2.35" />
<line x1="651.35" y1="530.00" x2="670.35" y2="530.00" stroke-width="2.8" />
<line x1="660.85" y1="556.00" x2="660.85" y2="582.60" stroke-width="2.35" />
<line x1="651.35" y1="582.60" x2="670.35" y2="582.60" stroke-width="2.8" />
<line x1="688.72" y1="574.40" x2="688.72" y2="542.00" stroke-width="2.35" />
<line x1="679.22" y1="542.00" x2="698.22" y2="542.00" stroke-width="2.8" />
<line x1="688.72" y1="574.40" x2="688.72" y2="606.60" stroke-width="2.35" />
<line x1="679.22" y1="606.60" x2="698.22" y2="606.60" stroke-width="2.8" />
<line x1="772.33" y1="647.00" x2="772.33" y2="618.40" stroke-width="2.35" />
<line x1="762.83" y1="618.40" x2="781.83" y2="618.40" stroke-width="2.8" />
<line x1="772.33" y1="647.00" x2="772.33" y2="675.00" stroke-width="2.35" />
<line x1="762.83" y1="675.00" x2="781.83" y2="675.00" stroke-width="2.8" />
<line x1="855.94" y1="730.00" x2="855.94" y2="703.60" stroke-width="2.35" />
<line x1="846.44" y1="703.60" x2="865.44" y2="703.60" stroke-width="2.8" />
<line x1="855.94" y1="730.00" x2="855.94" y2="757.00" stroke-width="2.35" />
<line x1="846.44" y1="757.00" x2="865.44" y2="757.00" stroke-width="2.8" />
<circle cx="521.50" cy="757.60" r="7.75" fill="#fff" stroke="#111" stroke-width="2.5"/>
<circle cx="549.37" cy="660.00" r="7.75" fill="#fff" stroke="#111" stroke-width="2.5"/>
<circle cx="577.24" cy="560.00" r="7.75" fill="#fff" stroke="#111" stroke-width="2.5"/>
<circle cx="605.11" cy="525.40" r="7.75" fill="#fff" stroke="#111" stroke-width="2.5"/>
<circle cx="632.98" cy="527.40" r="7.75" fill="#fff" stroke="#111" stroke-width="2.5"/>
<circle cx="660.85" cy="556.00" r="7.75" fill="#fff" stroke="#111" stroke-width="2.5"/>
<circle cx="688.72" cy="574.40" r="7.75" fill="#fff" stroke="#111" stroke-width="2.5"/>
<circle cx="772.33" cy="647.00" r="7.75" fill="#fff" stroke="#111" stroke-width="2.5"/>
<circle cx="855.94" cy="730.00" r="7.75" fill="#fff" stroke="#111" stroke-width="2.5"/>
</g>
<g stroke="#111" fill="none">
<polyline points="927.00,750.00 954.87,646.00 982.74,562.60 1010.61,540.00 1038.48,560.60 1066.35,598.00 1094.22,633.60 1177.83,667.60 1261.44,669.00" stroke-width="2.2"  stroke-linejoin="round"/>
<line x1="927.00" y1="750.00" x2="927.00" y2="758.00" stroke-width="2.35" />
<line x1="917.50" y1="758.00" x2="936.50" y2="758.00" stroke-width="2.8" />
<line x1="954.87" y1="646.00" x2="954.87" y2="630.60" stroke-width="2.35" />
<line x1="945.37" y1="630.60" x2="964.37" y2="630.60" stroke-width="2.8" />
<line x1="954.87" y1="646.00" x2="954.87" y2="662.00" stroke-width="2.35" />
<line x1="945.37" y1="662.00" x2="964.37" y2="662.00" stroke-width="2.8" />
<line x1="982.74" y1="562.60" x2="982.74" y2="544.60" stroke-width="2.35" />
<line x1="973.24" y1="544.60" x2="992.24" y2="544.60" stroke-width="2.8" />
<line x1="982.74" y1="562.60" x2="982.74" y2="581.60" stroke-width="2.35" />
<line x1="973.24" y1="581.60" x2="992.24" y2="581.60" stroke-width="2.8" />
<line x1="1010.61" y1="540.00" x2="1010.61" y2="517.60" stroke-width="2.35" />
<line x1="1001.11" y1="517.60" x2="1020.11" y2="517.60" stroke-width="2.8" />
<line x1="1010.61" y1="540.00" x2="1010.61" y2="566.40" stroke-width="2.35" />
<line x1="1001.11" y1="566.40" x2="1020.11" y2="566.40" stroke-width="2.8" />
<line x1="1038.48" y1="560.60" x2="1038.48" y2="534.00" stroke-width="2.35" />
<line x1="1028.98" y1="534.00" x2="1047.98" y2="534.00" stroke-width="2.8" />
<line x1="1038.48" y1="560.60" x2="1038.48" y2="585.00" stroke-width="2.35" />
<line x1="1028.98" y1="585.00" x2="1047.98" y2="585.00" stroke-width="2.8" />
<line x1="1066.35" y1="598.00" x2="1066.35" y2="570.00" stroke-width="2.35" />
<line x1="1056.85" y1="570.00" x2="1075.85" y2="570.00" stroke-width="2.8" />
<line x1="1066.35" y1="598.00" x2="1066.35" y2="625.60" stroke-width="2.35" />
<line x1="1056.85" y1="625.60" x2="1075.85" y2="625.60" stroke-width="2.8" />
<line x1="1094.22" y1="633.60" x2="1094.22" y2="605.00" stroke-width="2.35" />
<line x1="1084.72" y1="605.00" x2="1103.72" y2="605.00" stroke-width="2.8" />
<line x1="1094.22" y1="633.60" x2="1094.22" y2="663.00" stroke-width="2.35" />
<line x1="1084.72" y1="663.00" x2="1103.72" y2="663.00" stroke-width="2.8" />
<line x1="1177.83" y1="667.60" x2="1177.83" y2="640.60" stroke-width="2.35" />
<line x1="1168.33" y1="640.60" x2="1187.33" y2="640.60" stroke-width="2.8" />
<line x1="1177.83" y1="667.60" x2="1177.83" y2="694.40" stroke-width="2.35" />
<line x1="1168.33" y1="694.40" x2="1187.33" y2="694.40" stroke-width="2.8" />
<line x1="1261.44" y1="669.00" x2="1261.44" y2="652.00" stroke-width="2.35" />
<line x1="1251.94" y1="652.00" x2="1270.94" y2="652.00" stroke-width="2.8" />
<line x1="1261.44" y1="669.00" x2="1261.44" y2="691.00" stroke-width="2.35" />
<line x1="1251.94" y1="691.00" x2="1270.94" y2="691.00" stroke-width="2.8" />
<circle cx="927.00" cy="750.00" r="8.4" fill="#111" stroke="none"/>
<circle cx="954.87" cy="646.00" r="8.4" fill="#111" stroke="none"/>
<circle cx="982.74" cy="562.60" r="8.4" fill="#111" stroke="none"/>
<circle cx="1010.61" cy="540.00" r="8.4" fill="#111" stroke="none"/>
<circle cx="1038.48" cy="560.60" r="8.4" fill="#111" stroke="none"/>
<circle cx="1066.35" cy="598.00" r="8.4" fill="#111" stroke="none"/>
<circle cx="1094.22" cy="633.60" r="8.4" fill="#111" stroke="none"/>
<circle cx="1177.83" cy="667.60" r="8.4" fill="#111" stroke="none"/>
<circle cx="1261.44" cy="669.00" r="8.4" fill="#111" stroke="none"/>
</g>
<g stroke="#111" fill="none">
<polyline points="927.00,743.60 954.87,700.60 982.74,592.40 1010.61,545.60 1038.48,548.00 1066.35,569.60 1094.22,602.00 1177.83,650.40 1261.44,681.00" stroke-width="2.0" stroke-dasharray="7 2.8" stroke-linejoin="round"/>
<line x1="954.87" y1="700.60" x2="954.87" y2="689.60" stroke-width="2.35" />
<line x1="945.37" y1="689.60" x2="964.37" y2="689.60" stroke-width="2.8" />
<line x1="954.87" y1="700.60" x2="954.87" y2="711.60" stroke-width="2.35" />
<line x1="945.37" y1="711.60" x2="964.37" y2="711.60" stroke-width="2.8" />
<line x1="982.74" y1="592.40" x2="982.74" y2="578.00" stroke-width="2.35" />
<line x1="973.24" y1="578.00" x2="992.24" y2="578.00" stroke-width="2.8" />
<line x1="982.74" y1="592.40" x2="982.74" y2="606.60" stroke-width="2.35" />
<line x1="973.24" y1="606.60" x2="992.24" y2="606.60" stroke-width="2.8" />
<line x1="1010.61" y1="545.60" x2="1010.61" y2="526.00" stroke-width="2.35" />
<line x1="1001.11" y1="526.00" x2="1020.11" y2="526.00" stroke-width="2.8" />
<line x1="1010.61" y1="545.60" x2="1010.61" y2="566.40" stroke-width="2.35" />
<line x1="1001.11" y1="566.40" x2="1020.11" y2="566.40" stroke-width="2.8" />
<line x1="1038.48" y1="548.00" x2="1038.48" y2="522.00" stroke-width="2.35" />
<line x1="1028.98" y1="522.00" x2="1047.98" y2="522.00" stroke-width="2.8" />
<line x1="1038.48" y1="548.00" x2="1038.48" y2="572.00" stroke-width="2.35" />
<line x1="1028.98" y1="572.00" x2="1047.98" y2="572.00" stroke-width="2.8" />
<line x1="1066.35" y1="569.60" x2="1066.35" y2="541.80" stroke-width="2.35" />
<line x1="1056.85" y1="541.80" x2="1075.85" y2="541.80" stroke-width="2.8" />
<line x1="1066.35" y1="569.60" x2="1066.35" y2="597.00" stroke-width="2.35" />
<line x1="1056.85" y1="597.00" x2="1075.85" y2="597.00" stroke-width="2.8" />
<line x1="1094.22" y1="602.00" x2="1094.22" y2="577.50" stroke-width="2.35" />
<line x1="1084.72" y1="577.50" x2="1103.72" y2="577.50" stroke-width="2.8" />
<line x1="1094.22" y1="602.00" x2="1094.22" y2="626.60" stroke-width="2.35" />
<line x1="1084.72" y1="626.60" x2="1103.72" y2="626.60" stroke-width="2.8" />
<line x1="1177.83" y1="650.40" x2="1177.83" y2="633.00" stroke-width="2.35" />
<line x1="1168.33" y1="633.00" x2="1187.33" y2="633.00" stroke-width="2.8" />
<line x1="1177.83" y1="650.40" x2="1177.83" y2="667.00" stroke-width="2.35" />
<line x1="1168.33" y1="667.00" x2="1187.33" y2="667.00" stroke-width="2.8" />
<line x1="1261.44" y1="681.00" x2="1261.44" y2="694.60" stroke-width="2.35" />
<line x1="1251.94" y1="694.60" x2="1270.94" y2="694.60" stroke-width="2.8" />
<circle cx="927.00" cy="743.60" r="7.75" fill="#fff" stroke="#111" stroke-width="2.5"/>
<circle cx="954.87" cy="700.60" r="7.75" fill="#fff" stroke="#111" stroke-width="2.5"/>
<circle cx="982.74" cy="592.40" r="7.75" fill="#fff" stroke="#111" stroke-width="2.5"/>
<circle cx="1010.61" cy="545.60" r="7.75" fill="#fff" stroke="#111" stroke-width="2.5"/>
<circle cx="1038.48" cy="548.00" r="7.75" fill="#fff" stroke="#111" stroke-width="2.5"/>
<circle cx="1066.35" cy="569.60" r="7.75" fill="#fff" stroke="#111" stroke-width="2.5"/>
<circle cx="1094.22" cy="602.00" r="7.75" fill="#fff" stroke="#111" stroke-width="2.5"/>
<circle cx="1177.83" cy="650.40" r="7.75" fill="#fff" stroke="#111" stroke-width="2.5"/>
<circle cx="1261.44" cy="681.00" r="7.75" fill="#fff" stroke="#111" stroke-width="2.5"/>
</g>
<g style="opacity:0.999">
<text x="58.25" y="389.90" font-size="32.28" stroke="#111" stroke-width="0.35">4</text>
<text x="58.25" y="792.80" font-size="32.28" stroke="#111" stroke-width="0.35">4</text>
<text x="58.75" y="320.28" font-size="32.28" stroke="#111" stroke-width="0.35">5</text>
<text x="58.75" y="723.20" font-size="32.28" stroke="#111" stroke-width="0.35">5</text>
<text x="58.75" y="250.66" font-size="32.28" stroke="#111" stroke-width="0.35">6</text>
<text x="58.75" y="653.60" font-size="32.28" stroke="#111" stroke-width="0.35">6</text>
<text x="58.75" y="181.04" font-size="32.28" stroke="#111" stroke-width="0.35">7</text>
<text x="58.75" y="584.00" font-size="32.28" stroke="#111" stroke-width="0.35">7</text>
<text x="58.75" y="111.42" font-size="32.28" stroke="#111" stroke-width="0.35">8</text>
<text x="58.75" y="514.40" font-size="32.28" stroke="#111" stroke-width="0.35">8</text>
<text x="58.75" y="41.80" font-size="32.28" stroke="#111" stroke-width="0.35">9</text>
<text x="58.75" y="444.80" font-size="32.28" stroke="#111" stroke-width="0.35">9</text>
<text x="108.02" y="853.00" font-size="32.28" stroke="#111" stroke-width="0.35">0</text>
<text x="183.25" y="853.00" font-size="32.28" letter-spacing="-0.897" stroke="#111" stroke-width="0.35">30</text>
<text x="266.51" y="853.00" font-size="32.28" letter-spacing="-0.593" stroke="#111" stroke-width="0.35">60</text>
<text x="349.67" y="853.00" font-size="32.28" letter-spacing="0.007" stroke="#111" stroke-width="0.35">90</text>
<text x="425.02" y="853.00" font-size="32.28" letter-spacing="-0.022" stroke="#111" stroke-width="0.35">120</text>
<text x="197.69 219.80 229.22 260.24 281.07 286.29 299.22 330.80 339.48 360.72" y="906.80 906.80 906.80 906.80 906.80 904.00 906.80 906.80 906.80 904.00" font-size="33.85" stroke="#111" stroke-width="0.35">Time <tspan font-size="30.46">(</tspan>min<tspan font-size="30.46">)</tspan></text>
<text x="511.82" y="853.00" font-size="32.28" stroke="#111" stroke-width="0.35">0</text>
<text x="587.20" y="853.00" font-size="32.28" letter-spacing="-0.897" stroke="#111" stroke-width="0.35">30</text>
<text x="670.61" y="853.00" font-size="32.28" letter-spacing="-0.593" stroke="#111" stroke-width="0.35">60</text>
<text x="753.92" y="853.00" font-size="32.28" letter-spacing="0.007" stroke="#111" stroke-width="0.35">90</text>
<text x="829.42" y="853.00" font-size="32.28" letter-spacing="-0.022" stroke="#111" stroke-width="0.35">120</text>
<text x="601.69 623.80 633.22 664.24 685.07 690.29 703.22 734.80 743.48 764.72" y="906.80 906.80 906.80 906.80 906.80 904.00 906.80 906.80 906.80 904.00" font-size="33.85" stroke="#111" stroke-width="0.35">Time <tspan font-size="30.46">(</tspan>min<tspan font-size="30.46">)</tspan></text>
<text x="917.32" y="853.00" font-size="32.28" stroke="#111" stroke-width="0.35">0</text>
<text x="992.70" y="853.00" font-size="32.28" letter-spacing="-0.897" stroke="#111" stroke-width="0.35">30</text>
<text x="1076.11" y="853.00" font-size="32.28" letter-spacing="-0.593" stroke="#111" stroke-width="0.35">60</text>
<text x="1159.42" y="853.00" font-size="32.28" letter-spacing="0.007" stroke="#111" stroke-width="0.35">90</text>
<text x="1234.92" y="853.00" font-size="32.28" letter-spacing="-0.022" stroke="#111" stroke-width="0.35">120</text>
<text x="1007.09 1029.20 1038.62 1069.64 1090.47 1095.69 1108.62 1140.20 1148.88 1170.12" y="906.80 906.80 906.80 906.80 906.80 904.00 906.80 906.80 906.80 904.00" font-size="33.85" stroke="#111" stroke-width="0.35">Time <tspan font-size="30.46">(</tspan>min<tspan font-size="30.46">)</tspan></text>
<text x="114.69 126.88 151.57" y="22.70 25.50 22.70" font-size="33.85" stroke="#111" stroke-width="0.35"><tspan font-size="30.46">(</tspan>A<tspan font-size="30.46">)</tspan></text>
<text x="519.29 530.60 556.07" y="22.70 25.50 22.70" font-size="33.85" stroke="#111" stroke-width="0.35"><tspan font-size="30.46">(</tspan>B<tspan font-size="30.46">)</tspan></text>
<text x="115.24 126.18 150.75" y="442.80 445.60 442.80" font-size="33.56" stroke="#111" stroke-width="0.35"><tspan font-size="30.21">(</tspan>C<tspan font-size="30.21">)</tspan></text>
<text x="518.54 529.54 555.82" y="443.00 445.80 443.00" font-size="33.85" stroke="#111" stroke-width="0.35"><tspan font-size="30.46">(</tspan>D<tspan font-size="30.46">)</tspan></text>
<text x="924.84 935.10 959.27" y="443.00 445.80 443.00" font-size="33.85" stroke="#111" stroke-width="0.35"><tspan font-size="30.46">(</tspan>E<tspan font-size="30.46">)</tspan></text>
<text transform="translate(26.00,0) rotate(-90)" x="-387.40 -364.38 -355.33 -335.08 -314.07 -293.08 -285.32 -264.23 -255.35 -235.80 -218.33 -199.27 -181.83 -160.85 -154.26 -141.90 -110.90 -79.33 -59.23 -49.80 -40.23 -30.32" y="0.00 0.00 0.00 0.00 0.00 0.00 0.00 0.00 0.00 0.00 0.00 0.00 0.00 0.00 -2.80 0.00 0.00 0.00 0.00 0.00 0.00 -2.80" font-size="34.13" stroke="#111" stroke-width="0.35">Blood glucose <tspan font-size="30.72">(</tspan>mmol/l<tspan font-size="30.72">)</tspan></text>
<text transform="translate(26.00,0) rotate(-90)" x="-791.50 -768.48 -759.43 -739.18 -718.17 -697.18 -689.42 -668.33 -659.45 -639.90 -622.43 -603.37 -585.93 -564.95 -558.36 -546.00 -515.00 -483.43 -463.33 -453.90 -444.33 -434.42" y="0.00 0.00 0.00 0.00 0.00 0.00 0.00 0.00 0.00 0.00 0.00 0.00 0.00 0.00 -2.80 0.00 0.00 0.00 0.00 0.00 0.00 -2.80" font-size="34.13" stroke="#111" stroke-width="0.35">Blood glucose <tspan font-size="30.72">(</tspan>mmol/l<tspan font-size="30.72">)</tspan></text>
<text x="192.47" y="23.70" font-size="23.69" stroke="#111" stroke-width="0.7">a</text>
<text x="164.47" y="66.50" font-size="23.69" stroke="#111" stroke-width="0.7">a</text>
<text x="122.47 137.17 145.40" y="140.60 140.60 140.60" font-size="23.69" stroke="#111" stroke-width="0.7">a,b</text>
<text x="197.87 212.57 220.80" y="121.80 121.80 121.80" font-size="23.69" stroke="#111" stroke-width="0.7">a,b</text>
<text x="192.95" y="191.70" font-size="23.69" stroke="#111" stroke-width="0.7">b</text>
<text x="165.95" y="209.70" font-size="23.69" stroke="#111" stroke-width="0.7">b</text>
<text x="462.47" y="276.00" font-size="23.69" stroke="#111" stroke-width="0.7">a</text>
<text x="464.35" y="329.20" font-size="23.69" stroke="#111" stroke-width="0.7">b</text>
<text x="464.35" y="367.50" font-size="23.69" stroke="#111" stroke-width="0.7">b</text>
<text x="568.47" y="108.80" font-size="23.69" stroke="#111" stroke-width="0.7">a</text>
<text x="526.47 541.17 549.40" y="165.80 165.80 165.80" font-size="23.69" stroke="#111" stroke-width="0.7">a,b</text>
<text x="531.47" y="223.60" font-size="23.69" stroke="#111" stroke-width="0.7">a</text>
<text x="525.47" y="267.60" font-size="23.69" stroke="#111" stroke-width="0.7">a</text>
<text x="574.95" y="232.60" font-size="23.69" stroke="#111" stroke-width="0.7">b</text>
<text x="544.95" y="336.30" font-size="23.69" stroke="#111" stroke-width="0.7">b</text>
<text x="872.47" y="286.00" font-size="23.69" stroke="#111" stroke-width="0.7">a</text>
<text x="873.95" y="336.50" font-size="23.69" stroke="#111" stroke-width="0.7">b</text>
<text x="873.95" y="368.20" font-size="23.69" stroke="#111" stroke-width="0.7">b</text>
<text x="945.07" y="622.70" font-size="23.69" stroke="#111" stroke-width="0.7">a</text>
<text x="951.95" y="741.70" font-size="23.69" stroke="#111" stroke-width="0.7">b</text>
</g>
</svg>
</body></html>
